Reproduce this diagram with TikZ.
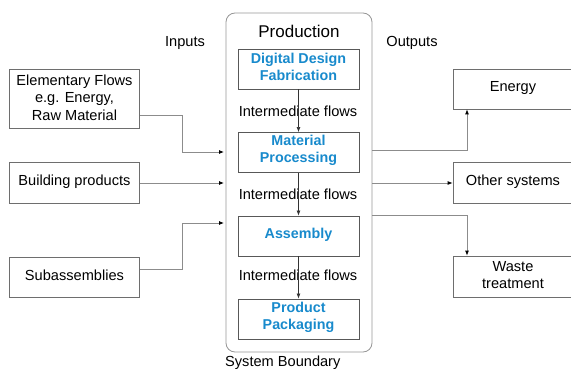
\documentclass[tikz,border=0pt]{standalone}
\usepackage{fontspec}
\setmainfont{Liberation Sans}
\usetikzlibrary{arrows.meta}
\definecolor{stepblue}{RGB}{24,138,204}
\definecolor{boxgray}{RGB}{110,110,110}
\definecolor{linegray}{RGB}{140,140,140}
\definecolor{bordergray}{RGB}{150,150,150}
\begin{document}
\begin{tikzpicture}[x=1pt,y=-1pt,
  every node/.style={font=\fontsize{14.6}{17.3}\selectfont, inner sep=0pt},
  sidebox/.style={draw=boxgray, line width=0.8pt, minimum width=130pt},
  sidetext/.style={align=center},
  stepbox/.style={draw=boxgray!80!black, line width=0.9pt,
    minimum width=121pt, minimum height=40pt},
  steptext/.style={align=center, text=stepblue,
    font=\fontsize{14.3}{17}\selectfont\bfseries},
  flowlabel/.style={font=\fontsize{14.6}{17}\selectfont},
  conn/.style={draw=linegray, line width=0.8pt, -{Latex[length=5pt,width=4pt,color=black]}},
  inner/.style={draw=black!80, line width=0.7pt, -{Latex[length=5pt,width=4pt]}}
]
\useasboundingbox (0,0) rectangle (571,369);

% system boundary
\draw[draw=bordergray, line width=0.8pt, rounded corners=9pt] (226,13) rectangle (372,352);
\node[font=\fontsize{17}{19}\selectfont] (title) at (299,31) {Production};
\node[anchor=west] (sysb) at (225,363) {System Boundary};

\node (inputs) at (185,43) {Inputs};
\node (outputs) at (412,43) {Outputs};

% production steps
\node[stepbox] (dd) at (298.5,69) {};
\node[stepbox] (mp) at (298.5,152.5) {};
\node[stepbox] (as) at (298.5,236) {};
\node[stepbox] (pp) at (298.5,319) {};
\node[steptext] at (298.5,67) {Digital Design\\Fabrication};
\node[steptext] at (298.5,150.5) {Material\\Processing};
\node[steptext] at (298.5,234.5) {Assembly};
\node[steptext] at (298.5,317.5) {Product\\Packaging};

\node[flowlabel] (f1) at (298,111) {Intermediate flows};
\node[flowlabel] (f2) at (298,194) {Intermediate flows};
\node[flowlabel] (f3) at (298,275) {Intermediate flows};

\draw[inner] (dd.south) -- (mp.north);
\draw[inner] (mp.south) -- (as.north);
\draw[inner] (as.south) -- (pp.north);

% inputs
\node[sidebox, minimum height=59pt] (ef) at (74.5,98.5) {};
\node[sidebox, minimum height=41pt] (bp) at (74.5,182.5) {};
\node[sidebox, minimum height=40pt] (sa) at (74.5,277) {};
\node[sidetext] at (74.5,97.5) {Elementary Flows\\e.g. Energy,\\Raw Material};
\node[sidetext] at (74.5,181.5) {Building products};
\node[sidetext] at (74.5,275.5) {Subassemblies};

\coordinate (inA) at (224,152);
\coordinate (inB) at (224,183);
\coordinate (inC) at (224,223);
\draw[conn] (ef.east |- 0,115) -| (182,152) -- (inA);
\draw[conn] (bp.east |- inB) -- (inB);
\draw[conn] (sa.east |- 0,269) -| (182,223) -- (inC);

% outputs
\node[sidebox, minimum height=40pt] (en) at (518,89) {};
\node[sidebox, minimum height=41pt] (os) at (518,182.5) {};
\node[sidebox, minimum height=41pt] (wt) at (518,276.5) {};
\node[sidetext] at (513,87.5) {Energy};
\node[sidetext] at (513,181.5) {Other systems};
\node[sidetext] at (513,275) {Waste\\treatment};

\coordinate (outA) at (372,150);
\coordinate (outB) at (372,183);
\coordinate (outC) at (372,215);
\draw[conn] (outA) -| (en.south -| 467,0);
\draw[conn] (outB) -- (os.west |- outB);
\draw[conn] (outC) -| (wt.north -| 467,0);

\end{tikzpicture}
\end{document}
